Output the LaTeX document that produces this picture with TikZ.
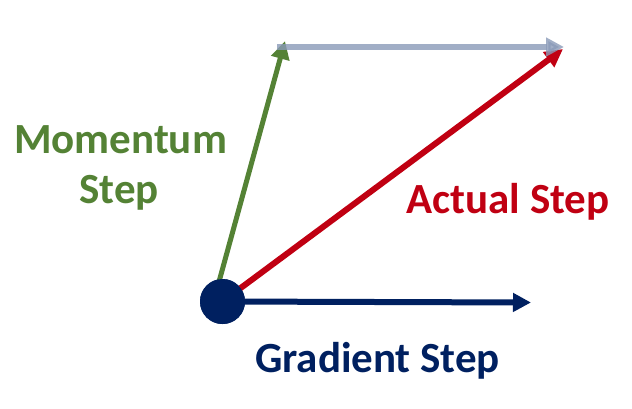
\documentclass[tikz,border=0pt]{standalone}
\usepackage{fontspec}
\setmainfont{Carlito}
\usetikzlibrary{arrows.meta}
\definecolor{mgreen}{HTML}{548235}
\definecolor{ared}{HTML}{C00012}
\definecolor{gnavy}{HTML}{002060}
\definecolor{lgray}{HTML}{8A9AB8}
\tikzset{
  vec/.style={line width=#1, -{Triangle[length=18pt,width=18pt]}},
  lbl/.style={anchor=base, inner sep=0pt, font=\fontsize{43}{50}\selectfont\bfseries},
  dot/.style={circle, fill=gnavy, minimum size=45pt, inner sep=0pt},
}
\begin{document}
\begin{tikzpicture}[x=1pt,y=-1pt]
\useasboundingbox (0,0) rectangle (632,408);
\coordinate (mtip) at (285,41);
\coordinate (gstart) at (277,47);
\coordinate (gtip) at (564,47);
\coordinate (atip) at (563,49);
\coordinate (dtip) at (531,302.5);
\node[dot] (pt) at (222.5,301.5) {};
\coordinate (mbase) at (214,300);
\draw[vec=5pt, mgreen] (mbase) -- (mtip);
\draw[vec=6pt, ared] (pt.center) -- (atip);
\draw[vec=6pt, gnavy] (pt.center) -- (dtip);
\node[dot] at (pt.center) {};
\draw[vec=6pt, lgray, opacity=0.8] (gstart) -- (gtip);
\node[lbl, text=mgreen] (mom1) at (120.5,153) {Momentum};
\node[lbl, text=mgreen] (mom2) at (119,203) {Step};
\node[lbl, text=ared] (act) at (508,213) {Actual Step};
\node[lbl, text=gnavy] (grad) at (377.5,372) {Gradient Step};
\end{tikzpicture}
\end{document}
